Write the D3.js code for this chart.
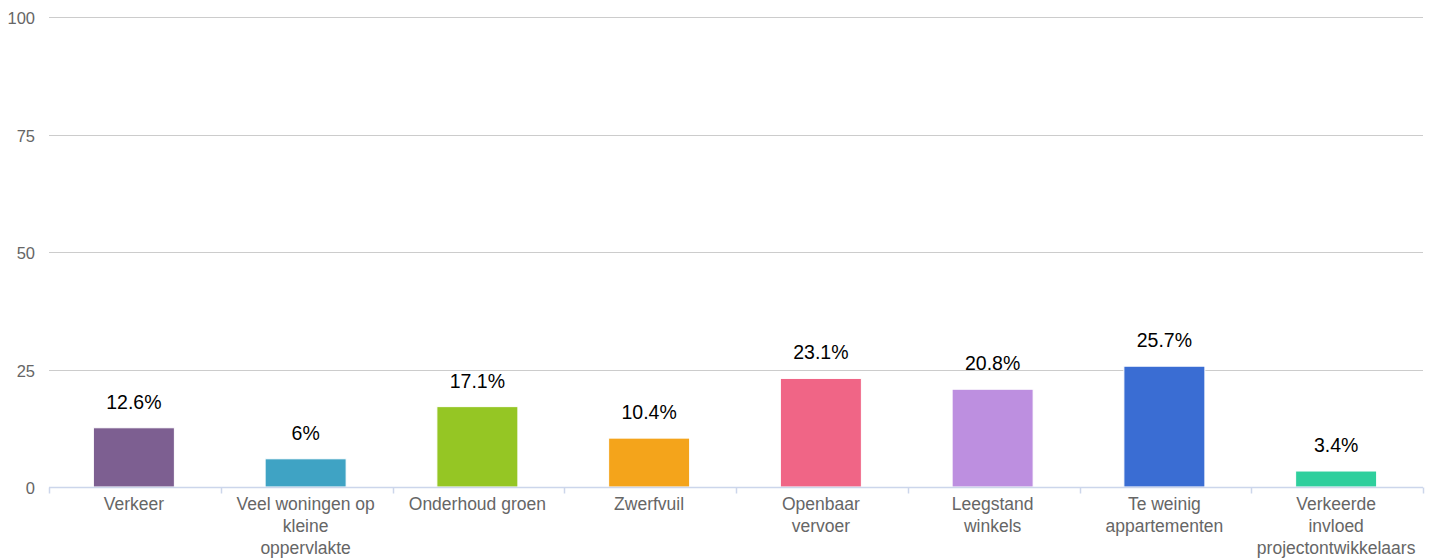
<!DOCTYPE html>
<html>
<head>
<meta charset="utf-8">
<script src="https://cdn.jsdelivr.net/npm/d3@7"></script>
<style>
  body { margin: 0; background: #fff; }
  svg { display: block; font-family: "Liberation Sans", Helvetica, Arial, sans-serif; }
</style>
</head>
<body>
<script>
const categories = [
  ["Verkeer"],
  ["Veel woningen op", "kleine", "oppervlakte"],
  ["Onderhoud groen"],
  ["Zwerfvuil"],
  ["Openbaar", "vervoer"],
  ["Leegstand", "winkels"],
  ["Te weinig", "appartementen"],
  ["Verkeerde", "invloed", "projectontwikkelaars"]
];
const values = [12.6, 6, 17.1, 10.4, 23.1, 20.8, 25.7, 3.4];
const colors = ["#7d5f91", "#3fa3c4", "#95c624", "#f4a41b", "#f06586", "#bd8fe0", "#3a6dd3", "#2fcf9d"];
const yTicks = [0, 25, 50, 75, 100];

const width = 1434, height = 560;
const margin = { left: 49, right: 11, top: 17, bottom: 73 };

const svg = d3.select("body").append("svg")
  .attr("width", width)
  .attr("height", height);

const x = d3.scaleBand()
  .domain(d3.range(categories.length))
  .range([margin.left, width - margin.right])
  .paddingInner(0)
  .paddingOuter(0);

const y = d3.scaleLinear()
  .domain([0, 100])
  .range([height - margin.bottom, margin.top]);

// gridlines + y labels
svg.append("g")
  .selectAll("line")
  .data(yTicks.filter(d => d > 0))
  .join("line")
  .attr("x1", margin.left)
  .attr("x2", width - margin.right)
  .attr("y1", d => Math.round(y(d)) + 0.5)
  .attr("y2", d => Math.round(y(d)) + 0.5)
  .attr("stroke", "#cccccc")
  .attr("stroke-width", 1);

svg.append("g")
  .selectAll("text")
  .data(yTicks)
  .join("text")
  .attr("x", 35)
  .attr("y", d => y(d) + 7)
  .attr("text-anchor", "end")
  .attr("fill", "#666666")
  .attr("font-size", 16.5)
  .text(d => d);

// bars
const barW = 81;
svg.append("g")
  .selectAll("rect")
  .data(values)
  .join("rect")
  .attr("x", (d, i) => x(i) + x.bandwidth() / 2 - barW / 2 - 1)
  .attr("y", d => y(d))
  .attr("width", barW)
  .attr("height", d => y(0) - y(d))
  .attr("fill", (d, i) => colors[i])
  .attr("stroke", "#ffffff")
  .attr("stroke-width", 1);

// value labels
svg.append("g")
  .selectAll("text")
  .data(values)
  .join("text")
  .attr("x", (d, i) => x(i) + x.bandwidth() / 2 - 1)
  .attr("y", d => y(d) - 19)
  .attr("text-anchor", "middle")
  .attr("fill", "#000000")
  .attr("font-size", 19.5)
  .text(d => d + "%");

// x axis
const axisY = Math.round(y(0)) + 0.5;
svg.append("line")
  .attr("x1", margin.left)
  .attr("x2", width - margin.right)
  .attr("y1", axisY)
  .attr("y2", axisY)
  .attr("stroke", "#ccd6eb")
  .attr("stroke-width", 1.5);

svg.append("g")
  .selectAll("line")
  .data(d3.range(categories.length + 1))
  .join("line")
  .attr("x1", i => Math.round(margin.left + i * x.bandwidth()) + 0.5)
  .attr("x2", i => Math.round(margin.left + i * x.bandwidth()) + 0.5)
  .attr("y1", axisY)
  .attr("y2", axisY + 6)
  .attr("stroke", "#ccd6eb")
  .attr("stroke-width", 1.5);

const xl = svg.append("g")
  .selectAll("text")
  .data(categories)
  .join("text")
  .attr("x", (d, i) => x(i) + x.bandwidth() / 2 - 1)
  .attr("y", axisY + 22)
  .attr("text-anchor", "middle")
  .attr("fill", "#666666")
  .attr("font-size", 17.5);

xl.selectAll("tspan")
  .data(d => d)
  .join("tspan")
  .attr("x", function () { return d3.select(this.parentNode).attr("x"); })
  .attr("dy", (d, i) => i === 0 ? 0 : 22)
  .text(d => d);
</script>
</body>
</html>
